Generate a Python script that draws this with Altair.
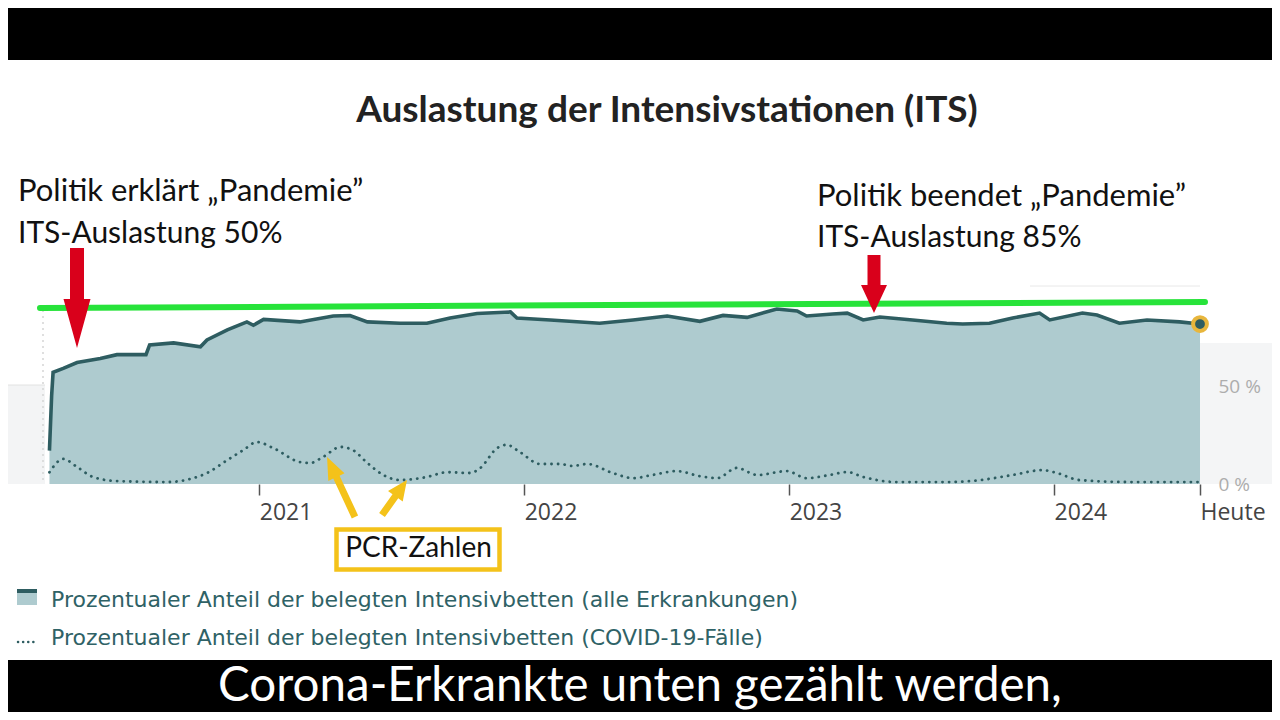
import altair as alt
import pandas as pd

# ---------------- texts ----------------
TITLE = "Auslastung der Intensivstationen (ITS)"
NOTE_LEFT = ["Politik erklärt „Pandemie”", "ITS-Auslastung 50%"]
NOTE_RIGHT = ["Politik beendet „Pandemie”", "ITS-Auslastung 85%"]
PCR_LABEL = "PCR-Zahlen"
LEGEND_LABELS = [
    "Prozentualer Anteil der belegten Intensivbetten (alle Erkrankungen)",
    "Prozentualer Anteil der belegten Intensivbetten (COVID-19-Fälle)",
]
SUBTITLE = "Corona-Erkrankte unten gezählt werden,"
YEAR_TICKS = [2021, 2022, 2023, 2024]
END_LABEL = "Heute"
Y_TICKS = [0, 50]

# ---------------- data ----------------
all_dates = [
    "2020-03-18", "2020-03-21", "2020-03-23", "2020-04-06", "2020-04-25", "2020-05-27",
    "2020-06-19", "2020-07-29", "2020-08-03", "2020-09-05", "2020-10-12", "2020-10-21",
    "2020-11-18", "2020-12-15", "2020-12-24", "2021-01-07", "2021-02-26", "2021-04-13",
    "2021-05-06", "2021-05-30", "2021-07-14", "2021-08-20", "2021-09-21", "2021-10-28",
    "2021-12-13", "2021-12-22", "2022-02-06", "2022-04-15", "2022-05-31", "2022-07-17",
    "2022-08-31", "2022-10-02", "2022-11-04", "2022-12-15", "2023-01-12", "2023-01-25",
    "2023-03-02", "2023-03-22", "2023-04-13", "2023-05-06", "2023-06-20", "2023-08-06",
    "2023-08-28", "2023-10-04", "2023-11-05", "2023-12-12", "2023-12-26", "2024-02-09",
    "2024-02-29", "2024-03-31", "2024-05-08", "2024-06-22", "2024-07-20",
]
all_values = [
    17, 45, 57, 59, 62, 64,
    66, 66, 71, 72, 70, 73.5,
    78.6, 82.7, 81, 84, 82.7, 85.7,
    86, 82.7, 82, 82, 84.7, 87,
    87.8, 84.7, 83.7, 82, 83.7, 85.7,
    83, 86, 85, 89.3, 88.3, 85.7,
    86.7, 87.2, 83.7, 85.2, 83.7, 82,
    81.6, 82, 84.7, 87.2, 83.7, 87.2,
    86.2, 82, 83.7, 82.7, 81.6,
]

covid_dates = [
    "2020-03-18", "2020-04-06", "2020-04-25", "2020-05-17", "2020-06-19", "2020-08-27",
    "2020-10-02", "2020-10-21", "2020-11-18", "2020-12-10", "2020-12-29", "2021-01-20",
    "2021-02-26", "2021-03-12", "2021-03-30", "2021-04-23", "2021-05-10", "2021-05-30",
    "2021-06-21", "2021-07-14", "2021-08-20", "2021-09-17", "2021-10-18", "2021-11-01",
    "2021-11-25", "2021-12-08", "2021-12-26", "2022-01-23", "2022-02-19", "2022-03-09",
    "2022-03-29", "2022-05-03", "2022-05-31", "2022-06-27", "2022-07-30", "2022-08-31",
    "2022-09-24", "2022-10-21", "2022-11-18", "2022-12-29", "2023-01-25", "2023-02-26",
    "2023-03-22", "2023-04-13", "2023-05-29", "2023-08-06", "2023-09-21", "2023-11-05",
    "2023-12-16", "2024-01-05", "2024-02-05", "2024-04-14", "2024-07-20",
]
covid_values = [
    6, 12.8, 8.7, 3.6, 1.5, 1,
    3, 5.6, 12.2, 17.3, 21.4, 18.4,
    11.2, 10.7, 13.8, 18.9, 17.3, 10.7,
    4.6, 2, 3.6, 6, 5.6, 8,
    18.4, 20, 16.3, 10.2, 10.2, 9.2,
    10.2, 5.6, 3, 4.6, 6.6, 4,
    3, 8.2, 4.6, 6.6, 3, 4.6,
    6.1, 3.6, 1, 1, 2, 4.6,
    7.1, 5.6, 2, 1, 1,
]

main = pd.DataFrame({"date": all_dates, "value": all_values})
covid = pd.DataFrame({"date": covid_dates, "value": covid_values})
last = main.tail(1)

# ---------------- styles ----------------
FILL = "#aecbcf"
DARK = "#2e5d61"
RED = "#d9001b"
GREEN = "#27e33a"
YELLOW = "#f4c21a"
GOLD = "#e8b63c"
W, H = 1152, 196

x_scale = alt.Scale(domain=[alt.DateTime(year=2020, month=3, date=16),
                            alt.DateTime(year=2024, month=7, date=20)])
y_scale = alt.Scale(domain=[0, 100])

x_axis = alt.Axis(
    values=[alt.DateTime(year=y, month=1, date=1) for y in YEAR_TICKS]
    + [alt.DateTime(year=2024, month=7, date=20)],
    labelExpr="month(datum.value) == 0 ? timeFormat(datum.value, '%Y') : '" + END_LABEL + "'",
    title=None, domain=False, grid=False, tickSize=11, tickWidth=1.5, tickColor="#555",
    labelAlign="left", labelFontSize=23, labelFont="Open Sans", labelColor="#444",
    labelPadding=6, labelOverlap=False, labelFlush=False, zindex=1,
)
y_axis = alt.Axis(
    orient="right", values=Y_TICKS, labelExpr="datum.value + ' %'", title=None,
    domain=False, ticks=False, grid=False, labelFontSize=19, labelColor="#adadad",
    labelPadding=18, labelAlign="left", labelFont="Open Sans", zindex=1,
)

ONE = alt.Data(values=[{"k": 0}])


def text_layer(s, x, y, size, font="Lato", weight="normal", color="#111111", align="left"):
    return alt.Chart(ONE).mark_text(
        text=s, align=align, baseline="middle", fontSize=size, font=font,
        fontWeight=weight, color=color,
    ).encode(x=alt.value(x), y=alt.value(y))


def rect_layer(x, x2, y, y2, fill, stroke=None, sw=0):
    kw = dict(fill=fill, opacity=1)
    if stroke:
        kw.update(stroke=stroke, strokeWidth=sw)
    return alt.Chart(ONE).mark_rect(**kw).encode(
        x=alt.value(x), x2=alt.value(x2), y=alt.value(y), y2=alt.value(y2))


def rule_layer(x, x2, y, y2, color, sw, dash=None, cap="butt"):
    kw = dict(color=color, strokeWidth=sw, strokeCap=cap)
    if dash:
        kw["strokeDash"] = dash
    return alt.Chart(ONE).mark_rule(**kw).encode(
        x=alt.value(x), x2=alt.value(x2), y=alt.value(y), y2=alt.value(y2))


def shape_layer(path, x, y, size, color, angle=0):
    return alt.Chart(ONE).mark_point(
        shape=path, size=size, filled=True, color=color, opacity=1, strokeWidth=0,
        angle=angle,
    ).encode(x=alt.value(x), y=alt.value(y))


# backgrounds
bg = [
    rect_layer(-48, 1232, -288, -228, "#000000"),
    rect_layer(-48, 1232, 372, 440, "#000000"),
    rect_layer(-48, -3, 97, 196, "#f3f4f5"),
    rect_layer(1152, 1232, 55, 196, "#f4f5f6"),
    rule_layer(-48, -3, 97, 97, "#e2e2e2", 1),
    rule_layer(982, 1152, -2, -2, "#e8e8e8", 1),
    rule_layer(-5, -5, 22, 196, "#d5d5d5", 1.5, dash=[2, 4]),
]

area = alt.Chart(main).mark_area(color=FILL, opacity=1).encode(
    x=alt.X("date:T", scale=x_scale, axis=x_axis),
    y=alt.Y("value:Q", scale=y_scale, axis=y_axis),
)
line = alt.Chart(main).mark_line(color=DARK, strokeWidth=3.6).encode(
    x="date:T", y="value:Q")
covid_line = alt.Chart(covid).mark_line(
    color=DARK, strokeWidth=2.8, strokeDash=[0.1, 6.5], strokeCap="round",
    interpolate="monotone").encode(x="date:T", y="value:Q")
end_pt = alt.Chart(last).mark_circle(
    color=DARK, opacity=1, size=190, stroke=GOLD, strokeWidth=4).encode(
    x="date:T", y="value:Q")

# annotations
green = rule_layer(-8, 1157, 20, 14, GREEN, 6, cap="round")
arrow1 = shape_layer(
    "M -0.14 -1 L 0.14 -1 L 0.14 0.02 L 0.27 0.02 L 0 1 L -0.27 0.02 L -0.14 0.02 Z",
    29, 10, 10000, RED)
arrow2 = shape_layer(
    "M -0.224 -1 L 0.224 -1 L 0.224 0.034 L 0.448 0.034 L 0 1 L -0.448 0.034 L -0.224 0.034 Z",
    826, -4, 3364, RED)
yarrow1 = shape_layer(
    "M 0 -1 L 0.27 -0.33 L 0.106 -0.33 L 0.106 1 L -0.106 1 L -0.106 -0.33 L -0.27 -0.33 Z",
    293, 199, 4356, YELLOW, angle=335)
yarrow2 = shape_layer(
    "M 0 -1 L 0.42 -0.07 L 0.163 -0.07 L 0.163 1 L -0.163 1 L -0.163 -0.07 L -0.42 -0.07 Z",
    346.5, 209.5, 1849, YELLOW, angle=35.5)
pcr_box = rect_layer(288.5, 451.5, 241.5, 281.5, "#ffffff", stroke=YELLOW, sw=4.5)

texts = [
    text_layer(TITLE, 619, -177, 37, weight="bold", color="#222222", align="center"),
    text_layer(NOTE_LEFT[0], -30, -96, 31),
    text_layer(NOTE_LEFT[1], -30, -54, 30),
    text_layer(NOTE_RIGHT[0], 769, -91, 31),
    text_layer(NOTE_RIGHT[1], 769, -50, 30),
    text_layer(PCR_LABEL, 370.5, 261, 28, align="center"),
    text_layer(LEGEND_LABELS[0], 3, 312, 22, font="DejaVu Sans", color="#2f6266"),
    text_layer(LEGEND_LABELS[1], 3, 350, 22, font="DejaVu Sans", color="#2f6266"),
    text_layer(SUBTITLE, 592, 399, 47.5, color="#ffffff", align="center"),
]

legend_icons = [
    rect_layer(-31, -11, 301, 317, FILL),
    rule_layer(-31, -11, 303, 303, DARK, 4),
    rule_layer(-30, -13, 354, 354, DARK, 2.5, dash=[0.1, 5], cap="round"),
]

chart = alt.layer(
    *bg, area, line, covid_line, end_pt, green, arrow1, arrow2, yarrow1, yarrow2,
    pcr_box, *texts, *legend_icons,
).properties(
    width=W, height=H,
    padding={"left": 40, "top": 280, "right": 72, "bottom": 228},
    autosize=alt.AutoSizeParams(type="none"),
    background="#ffffff",
).configure_view(stroke=None)

chart.save("out.html", embed_options={"renderer": "svg", "actions": False})
